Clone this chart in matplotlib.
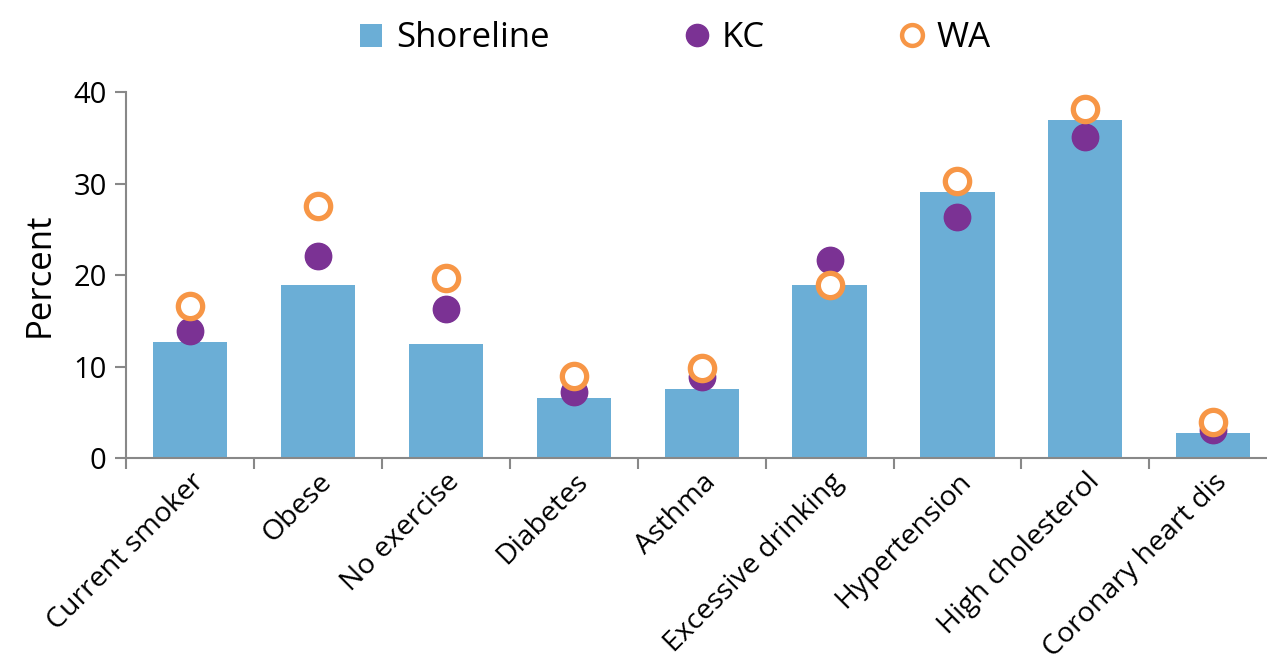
import matplotlib
matplotlib.use("Agg")
import matplotlib.pyplot as plt
from matplotlib.lines import Line2D
from matplotlib.patches import Patch
import numpy as np

categories = ["Current smoker", "Obese", "No exercise", "Diabetes", "Asthma",
              "Excessive drinking", "Hypertension", "High cholesterol",
              "Coronary heart dis"]
shoreline = [12.7, 18.9, 12.5, 6.6, 7.6, 18.9, 29.1, 37.0, 2.8]
kc = [13.9, 22.1, 16.3, 7.2, 8.9, 21.7, 26.4, 35.1, 3.1]
wa = [16.6, 27.6, 19.7, 9.0, 9.9, 18.9, 30.3, 38.2, 3.9]

bar_color = "#6BAED6"
kc_color = "#7B3294"
wa_color = "#F79646"

plt.rcParams['font.family'] = ['Open Sans', 'DejaVu Sans']

fig = plt.figure(figsize=(12.67, 6.64), dpi=100)
ax = fig.add_axes([0.0995, 0.31, 0.9005, 0.551])

x = np.arange(len(categories))
ax.bar(x, shoreline, width=0.58, color=bar_color, zorder=1)
ax.plot(x, kc, linestyle="none", marker="o", markersize=19,
        color=kc_color, zorder=2)
ax.plot(x, wa, linestyle="none", marker="o", markersize=17.5,
        markerfacecolor="white", markeredgecolor=wa_color,
        markeredgewidth=3.8, zorder=3)

ax.set_xlim(-0.5, 8.42)
ax.set_ylim(0, 40)
ax.set_yticks([0, 10, 20, 30, 40])

# category ticks on the boundaries, labels under the bars
ax.set_xticks(np.arange(-0.5, 8.0, 1.0))
ax.set_xticklabels([])
ax.set_xticks(x, minor=True)
ax.set_xticklabels(categories, minor=True, rotation=45, ha="right",
                   rotation_mode="anchor", fontsize=20.5)
ax.tick_params(axis="x", which="minor", length=0, pad=7)
ax.tick_params(axis="x", which="major", length=8, width=1.5, color="#888888")
ax.tick_params(axis="y", length=8, width=1.5, color="#888888",
               labelsize=21, pad=6)

for s in ["top", "right"]:
    ax.spines[s].set_visible(False)
for s in ["left", "bottom"]:
    ax.spines[s].set_color("#888888")
    ax.spines[s].set_linewidth(1.5)

ax.set_ylabel("Percent", fontsize=25, labelpad=12)

handles = [
    Patch(facecolor=bar_color, label="Shoreline"),
    Line2D([], [], linestyle="none", marker="o", markersize=16,
           color=kc_color, label="KC"),
    Line2D([], [], linestyle="none", marker="o", markersize=15,
           markerfacecolor="white", markeredgecolor=wa_color,
           markeredgewidth=3.2, label="WA"),
]
fig.legend(handles=handles, loc="upper center", bbox_to_anchor=(0.533, 1.015),
           ncol=3, frameon=False, fontsize=25, columnspacing=3.9,
           handlelength=0.65, handleheight=0.65, handletextpad=0.4)

fig.savefig("out.png", dpi=100)
